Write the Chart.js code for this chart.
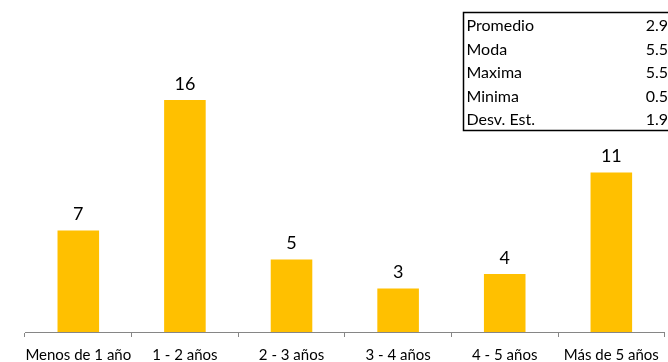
<!DOCTYPE html>
<html>
<head>
<meta charset="utf-8">
<script src="https://cdn.jsdelivr.net/npm/chart.js@4.4.1/dist/chart.umd.min.js"></script>
<style>
  html, body { margin: 0; padding: 0; background: #fff; }
  #wrap { width: 668px; height: 362px; position: relative; }
</style>
</head>
<body>
<div id="wrap"><canvas id="c" width="668" height="362"></canvas></div>
<script>
// Antigüedad: number of people per range of years
const categories = ['Menos de 1 año', '1 - 2 años', '2 - 3 años', '3 - 4 años', '4 - 5 años', 'Más de 5 años'];
const counts = [7, 16, 5, 3, 4, 11];

// Summary statistics box
const statNames = ['Promedio', 'Moda', 'Maxima', 'Minima', 'Desv. Est.'];
const statValues = ['2.9', '5.5', '5.5', '0.5', '1.9'];

const FONT = 'Lato, "Open Sans", "Liberation Sans", sans-serif';

// Value labels above each bar
const valueLabels = {
  id: 'valueLabels',
  afterDatasetsDraw(chart) {
    const ctx = chart.ctx;
    const meta = chart.getDatasetMeta(0);
    ctx.save();
    ctx.font = '18px ' + FONT;
    ctx.fillStyle = '#000';
    ctx.textAlign = 'center';
    ctx.textBaseline = 'bottom';
    meta.data.forEach((bar, i) => {
      ctx.fillText(String(counts[i]), bar.x, bar.y - 7);
    });
    ctx.restore();
  }
};

// Statistics table in the top-right corner
const statsTable = {
  id: 'statsTable',
  afterDraw(chart) {
    const ctx = chart.ctx;
    const left = 463.5, top = 12.5, rowH = 23.6, right = 672;
    const bottom = top + rowH * statNames.length;
    ctx.save();
    ctx.strokeStyle = '#000';
    ctx.lineWidth = 1.5;
    ctx.strokeRect(left, top, right - left, bottom - top);
    ctx.font = '16px ' + FONT;
    ctx.fillStyle = '#000';
    ctx.textBaseline = 'middle';
    statNames.forEach((name, i) => {
      const y = top + rowH * (i + 0.5) + 1.5;
      ctx.textAlign = 'left';
      ctx.fillText(name, left + 3, y);
      ctx.textAlign = 'right';
      ctx.fillText(statValues[i], 668, y);
    });
    ctx.restore();
  }
};

new Chart(document.getElementById('c'), {
  type: 'bar',
  data: {
    labels: categories,
    datasets: [{
      data: counts,
      backgroundColor: '#FFC000',
      borderWidth: 0,
      barPercentage: 0.39,
      categoryPercentage: 1
    }]
  },
  options: {
    responsive: false,
    animation: false,
    devicePixelRatio: 1,
    layout: { padding: { left: 25, right: 2, top: 71, bottom: 0 } },
    plugins: { legend: { display: false }, tooltip: { enabled: false } },
    scales: {
      x: {
        afterFit(scale) { scale.height = 30; },
        grid: {
          offset: true,
          drawOnChartArea: false,
          drawTicks: true,
          tickLength: 5,
          color: '#868686'
        },
        border: { color: '#868686', width: 1 },
        ticks: {
          color: '#000',
          font: { family: FONT, size: 15 },
          maxRotation: 0,
          autoSkip: false,
          padding: 9
        }
      },
      y: {
        display: false,
        min: 0,
        max: 18
      }
    }
  },
  plugins: [valueLabels, statsTable]
});
</script>
</body>
</html>
